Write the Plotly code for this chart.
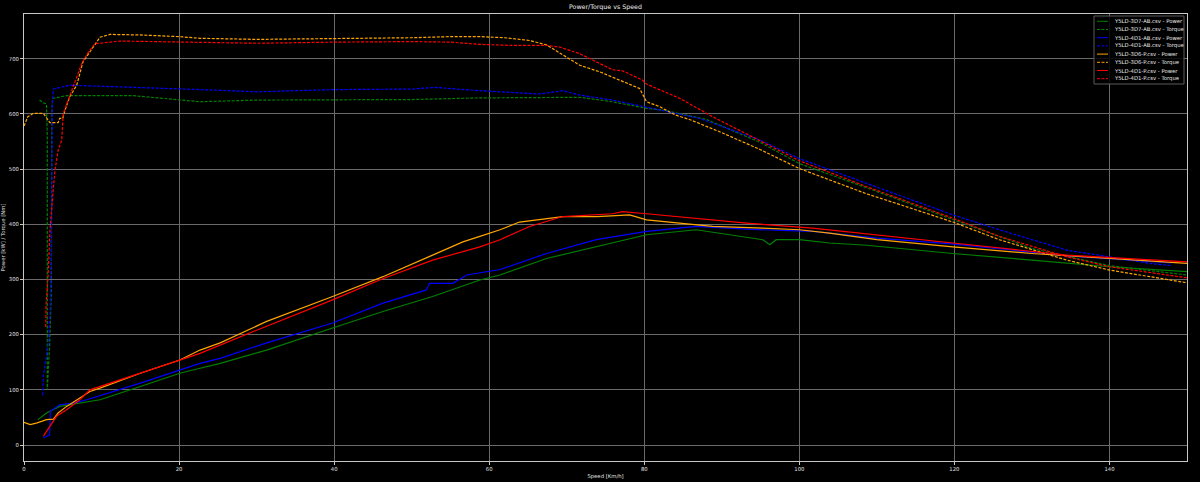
import plotly.graph_objects as go

# ---------------- data ----------------
names = [
    "Y5LD-3D7-AB.csv - Power", "Y5LD-3D7-AB.csv - Torque",
    "Y5LD-4D1-AB.csv - Power", "Y5LD-4D1-AB.csv - Torque",
    "Y5LD-3D6-P.csv - Power", "Y5LD-3D6-P.csv - Torque",
    "Y5LD-4D1-P.csv - Power", "Y5LD-4D1-P.csv - Torque",
]
colors = ["#008000", "#008000", "#0000ff", "#0000ff",
          "#ffa500", "#ffa500", "#ff0000", "#ff0000"]
dashed = [False, True, False, True, False, True, False, True]

g_pow_x = [1.8, 2.9, 4.6, 7.6, 9.8, 15, 20.1, 22.7, 25.3, 31.3, 35, 39.8, 46.3, 52.7, 58.8, 61.4,
           67.4, 73.8, 80.3, 86.7, 91, 95.3, 96.2, 97, 100, 103.9, 108.7, 119.8, 130, 140, 150]
g_pow_y = [46, 58, 70, 77, 82, 106, 130, 139, 148, 172, 190, 212, 242, 269, 299, 308,
           338, 359, 381, 390, 381, 372, 363, 372, 372, 366, 362, 347, 335, 323, 314]

g_tq_x = [2.0, 2.5, 2.9, 3.0, 3.0, 3.3, 3.5, 3.55, 3.6, 3.7, 5.5, 14.1, 22.7, 30, 40, 50, 58.8,
          65, 71.7, 75.9, 80.3, 82.4, 88, 95, 100, 108.7, 119.8, 130, 140, 150]
g_tq_y = [625, 620, 618, 560, 100, 178, 270, 450, 600, 628, 633, 633, 622, 625, 626, 626, 629,
          630, 630, 622, 610, 607, 590, 548, 510, 466, 408, 356, 325, 308]

b_pow_x = [2.5, 3.3, 3.4, 4.6, 6.4, 8.1, 15, 20.1, 22.7, 25.3, 31.3, 39.8, 46.3, 51.9, 52.3, 55.3,
           57.1, 61.4, 67.4, 73.8, 80.3, 86.7, 93.2, 101.7, 110, 120, 135, 148]
b_pow_y = [13, 18, 61, 73, 76, 82, 112, 136, 148, 157, 185, 221, 257, 281, 293, 293,
           308, 318, 347, 372, 387, 396, 391, 387, 375, 364, 342, 330]

b_tq_x = [2.4, 2.5, 3.1, 3.35, 3.55, 3.6, 3.65, 3.8, 5.9, 10, 15, 22.7, 30, 40, 50, 53, 58.8, 63,
          66.5, 69.5, 71.7, 75.9, 80.3, 82.9, 87.1, 95, 100, 108.7, 119.8, 125.8, 134.5, 140, 145.2, 148]
b_tq_y = [90, 125, 180, 235, 350, 510, 620, 645, 652, 650, 648, 644, 640, 644, 645, 648, 642, 638,
          636, 642, 634, 625, 612, 604, 592, 552, 519, 474, 417, 390, 353, 341, 329, 325]

o_pow_x = [0, 0.8, 1.7, 2.9, 3.8, 4.4, 5.5, 6.8, 8.5, 9.8, 15, 20.1, 22.7, 25.3, 31.3, 39.8, 46.3,
           52.7, 56.6, 58.8, 61.4, 63.9, 69.5, 73.9, 78.1, 80.3, 84.6, 88.8, 95.3, 100, 103.9, 110,
           119.8, 130, 140, 150]
o_pow_y = [41, 37, 40, 46, 47, 58, 70, 82, 97, 103, 130, 154, 172, 185, 224, 269, 305,
           344, 368, 378, 390, 404, 414, 414, 417, 408, 402, 396, 393, 390, 384, 372,
           359, 347, 338, 329]

o_tq_x = [0, 0.5, 1.2, 2.5, 2.9, 3.35, 4.4, 4.6, 5.0, 5.3, 5.9, 6.8, 7.6, 8.5, 9.15, 9.8, 11.1, 15,
          20, 22.7, 30, 40, 45, 50, 55, 58.8, 62, 65.2, 67.4, 69.1, 71.7, 74.3, 76.8, 79.4, 80.3, 82,
          84, 86, 90, 95, 100, 108.7, 112.9, 119.8, 125.8, 134.5, 140, 150]
o_tq_y = [578, 595, 601, 601, 593, 584, 584, 592, 592, 607, 631, 652, 694, 712, 727, 739, 744, 743,
          740, 737, 735, 736, 737, 738, 740, 740, 738, 733, 725, 710, 688, 676, 661, 646, 622, 613,
          598, 589, 566, 535, 501, 455, 436, 404, 372, 335, 317, 294]

r_pow_x = [2.5, 3.35, 4.2, 5.5, 7.2, 8.5, 15, 22.7, 30, 39.8, 46, 52.7, 58.8, 61.4, 65.2, 69.5,
           75.9, 77.2, 80.3, 86.8, 93.2, 101.7, 110, 119.8, 134.5, 150]
r_pow_y = [16, 34, 52, 64, 82, 100, 130, 166, 208, 263, 300, 335, 359, 372, 396, 414,
           419, 423, 419, 411, 402, 393, 380, 366, 344, 332]

r_tq_x = [2.8, 2.85, 3.1, 3.35, 3.8, 4.0, 4.4, 4.86, 5.07, 6.36, 7.44, 8.3, 9.15, 12.4, 20, 22.7,
          30, 40, 50, 55, 58.8, 63, 67.4, 69.1, 71.7, 74.3, 75.9, 77.2, 79.8, 80.3, 84.6, 88.8, 95,
          100, 108.7, 119.8, 125.8, 134.5, 140, 150]
r_tq_y = [214, 257, 305, 389, 468, 498, 534, 552, 601, 649, 691, 712, 727, 732, 730, 729,
          728, 730, 731, 730, 726, 724, 724, 721, 709, 691, 680, 678, 661, 654, 628, 595, 550,
          515, 468, 411, 378, 341, 323, 303]

series_x = [g_pow_x, g_tq_x, b_pow_x, b_tq_x, o_pow_x, o_tq_x, r_pow_x, r_tq_x]
series_y = [g_pow_y, g_tq_y, b_pow_y, b_tq_y, o_pow_y, o_tq_y, r_pow_y, r_tq_y]

x_ticks = [0, 20, 40, 60, 80, 100, 120, 140]
y_ticks = [0, 100, 200, 300, 400, 500, 600, 700]

# ---------------- figure ----------------
W, H = 1200, 482
ML, MR, MT, MB = 24, 13, 14, 21
FONT = "DejaVu Sans"

fig = go.Figure()
for xs, ys, nm, c, d in zip(series_x, series_y, names, colors, dashed):
    fig.add_trace(go.Scatter(
        x=xs, y=ys, mode="lines", name=nm, showlegend=False,
        line=dict(color=c, width=1.2, dash="3px,1.5px" if d else "solid"),
    ))

axis_common = dict(
    showgrid=True, gridcolor="#6a6a6a", gridwidth=1,
    showline=True, linecolor="#c8c8c8", linewidth=1, mirror=True,
    ticks="outside", ticklen=3, tickcolor="#c8c8c8", tickwidth=1,
    tickfont=dict(family=FONT, size=5.3, color="#e0e0e0"),
    zeroline=False,
)
fig.update_xaxes(range=[0, 150], tickvals=x_ticks,
                 title=dict(text="Speed [Km/h]", font=dict(family=FONT, size=5.3, color="#e0e0e0"), standoff=2),
                 automargin=False, **axis_common)
fig.update_yaxes(range=[-29, 781], tickvals=y_ticks,
                 title=dict(text="Power [kW] / Torque [Nm]", font=dict(family=FONT, size=5.3, color="#e0e0e0"), standoff=2),
                 automargin=False, **axis_common)

# legend box (drawn in paper space, upper right inside the axes)
pw, ph = W - ML - MR, H - MT - MB
def px2paper(x, y):
    return (x - ML) / pw, (H - MB - y) / ph

bx0, by0 = px2paper(1094, 84)
bx1, by1 = px2paper(1184, 16)
fig.add_shape(type="rect", xref="paper", yref="paper", x0=bx0, y0=by0, x1=bx1, y1=by1,
              fillcolor="rgba(0,0,0,0.85)", line=dict(color="#5a5a5a", width=1), layer="above")
for i, (nm, c, d) in enumerate(zip(names, colors, dashed)):
    yc = 21.3 + i * 8.2
    lx0, ly = px2paper(1097, yc)
    lx1, _ = px2paper(1108, yc)
    fig.add_shape(type="line", xref="paper", yref="paper", x0=lx0, x1=lx1, y0=ly, y1=ly,
                  line=dict(color=c, width=1, dash="3px,1.5px" if d else "solid"), layer="above")
    tx, ty = px2paper(1112, yc)
    fig.add_annotation(xref="paper", yref="paper", x=tx, y=ty, text=nm, showarrow=False,
                       xanchor="left", yanchor="middle",
                       font=dict(family=FONT, size=5.3, color="#e8e8e8"))

fig.update_layout(
    width=W, height=H,
    margin=dict(l=ML, r=MR, t=MT, b=MB, pad=0),
    paper_bgcolor="#000000", plot_bgcolor="#000000",
    title=dict(text="Power/Torque vs Speed", x=(ML + pw / 2) / W, xanchor="center",
               y=1 - 7 / H, yanchor="middle", font=dict(family=FONT, size=6.3, color="#f0f0f0")),
    showlegend=False,
)

fig.write_html(
    "out.html",
    config={"displayModeBar": False},
    post_script="document.body.style.margin='0';document.body.style.overflow='hidden';"
                "document.body.style.background='#000';",
)
